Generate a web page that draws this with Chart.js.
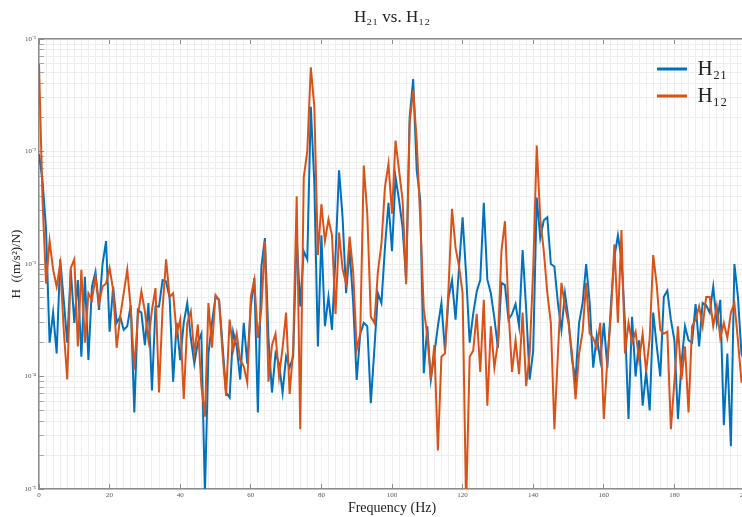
<!DOCTYPE html>
<html>
<head>
<meta charset="utf-8">
<title>H21 vs. H12</title>
<script src="https://cdn.jsdelivr.net/npm/chart.js@4.4.1/dist/chart.umd.min.js"></script>
<style>
  html, body { margin: 0; padding: 0; background: #fff; overflow: hidden; }
</style>
</head>
<body>
<canvas id="frfChart" width="760" height="517"></canvas>
<script>
// frequency axis (Hz)
const freqHz = [
    0, 1, 2, 3, 4, 5, 6, 7, 8, 9, 10, 11, 12, 13, 14, 15, 16, 17, 18, 19,
    20, 21, 22, 23, 24, 25, 26, 27, 28, 29, 30, 31, 32, 33, 34, 35, 36, 37, 38, 39,
    40, 41, 42, 43, 44, 45, 46, 47, 48, 49, 50, 51, 52, 53, 54, 55, 56, 57, 58, 59,
    60, 61, 62, 63, 64, 65, 66, 67, 68, 69, 70, 71, 72, 73, 74, 75, 76, 77, 78, 79,
    80, 81, 82, 83, 84, 85, 86, 87, 88, 89, 90, 91, 92, 93, 94, 95, 96, 97, 98, 99,
    100, 101, 102, 103, 104, 105, 106, 107, 108, 109, 110, 111, 112, 113, 114, 115, 116, 117, 118, 119,
    120, 121, 122, 123, 124, 125, 126, 127, 128, 129, 130, 131, 132, 133, 134, 135, 136, 137, 138, 139,
    140, 141, 142, 143, 144, 145, 146, 147, 148, 149, 150, 151, 152, 153, 154, 155, 156, 157, 158, 159,
    160, 161, 162, 163, 164, 165, 166, 167, 168, 169, 170, 171, 172, 173, 174, 175, 176, 177, 178, 179,
    180, 181, 182, 183, 184, 185, 186, 187, 188, 189, 190, 191, 192, 193, 194, 195, 196, 197, 198, 199,
    200
];

// H21 magnitude, (m/s^2)/N
const h21 = [
    9.5e-3, 5.5e-3, 2.0e-3, 2.0e-4, 3.7e-4, 1.6e-4, 1.1e-3, 4.8e-4, 2.0e-4, 8.9e-4,
    3.0e-4, 7.2e-4, 1.5e-4, 7.7e-4, 1.4e-4, 6.3e-4, 8.5e-4, 3.9e-4, 1.0e-3, 1.6e-3,
    2.5e-4, 6.3e-4, 3.0e-4, 3.4e-4, 2.6e-4, 2.8e-4, 4.3e-4, 4.8e-5, 3.9e-4, 3.7e-4,
    1.9e-4, 4.5e-4, 7.5e-5, 4.2e-4, 4.2e-4, 7.2e-4, 7.0e-4, 5.0e-4, 9.0e-5, 3.0e-4,
    1.4e-4, 3.0e-4, 4.5e-4, 2.2e-4, 1.3e-4, 2.0e-4, 2.4e-4, 9.0e-6, 1.6e-4, 3.0e-4,
    5.1e-4, 4.8e-4, 1.9e-4, 7.2e-5, 6.5e-5, 2.5e-4, 1.85e-4, 9.4e-5, 3.0e-4, 1.3e-4,
    4.2e-4, 7.5e-4, 4.8e-5, 9.5e-4, 1.7e-3, 2.2e-4, 7.2e-5, 1.6e-4, 1.3e-4, 7.2e-5,
    1.5e-4, 1.2e-4, 1.5e-4, 1.75e-3, 4.2e-4, 1.3e-3, 1.1e-3, 2.5e-2, 5.2e-3, 1.85e-4,
    1.8e-3, 2.8e-4, 5.1e-4, 2.6e-4, 1.2e-3, 6.8e-3, 2.6e-3, 5.5e-4, 1.33e-3, 4.5e-4,
    9.3e-5, 2.4e-4, 3.0e-4, 2.8e-4, 5.8e-5, 1.74e-4, 5.5e-4, 4.5e-4, 1.4e-3, 3.5e-3,
    1.3e-3, 5.9e-3, 3.7e-3, 2.1e-3, 7.2e-4, 2.0e-2, 4.4e-2, 6.8e-3, 3.7e-3, 1.07e-4,
    2.8e-4, 9.4e-5, 1.6e-4, 2.8e-4, 4.5e-4, 1.7e-4, 5.0e-4, 7.2e-4, 3.2e-4, 9.5e-4,
    2.6e-3, 8.0e-4, 2.0e-4, 3.6e-4, 5.7e-4, 7.2e-4, 3.5e-3, 7.3e-4, 5.5e-4, 3.3e-4,
    1.8e-4, 6.8e-4, 6.5e-4, 3.2e-4, 3.6e-4, 4.4e-4, 2.8e-4, 1.33e-3, 4.0e-4, 9.4e-5,
    1.7e-4, 3.9e-3, 1.7e-3, 2.45e-3, 2.6e-3, 1.0e-3, 9.5e-4, 4.5e-4, 2.6e-4, 5.5e-4,
    3.2e-4, 1.4e-4, 9.4e-5, 3.0e-4, 4.5e-4, 1.0e-3, 4.5e-4, 1.2e-4, 2.3e-4, 1.4e-4,
    3.0e-4, 1.2e-4, 4.2e-4, 1.16e-3, 1.8e-3, 1.1e-3, 3.0e-4, 4.2e-5, 3.4e-4, 1.0e-4,
    2.1e-4, 5.5e-5, 1.1e-4, 5.0e-5, 3.7e-4, 1.85e-4, 1.0e-4, 5.1e-4, 5.8e-4, 3.2e-4,
    2.1e-4, 4.2e-5, 1.3e-4, 2.8e-4, 2.1e-4, 2.0e-4, 4.4e-4, 1.85e-4, 4.5e-4, 4.3e-4,
    3.7e-4, 6.3e-4, 3.0e-4, 4.8e-4, 3.7e-5, 1.6e-4, 2.4e-5, 1.0e-3, 5.1e-4, 1.6e-4,
    1.3e-4
];

// H12 magnitude, (m/s^2)/N
const h12 = [
    6.0e-2, 3.7e-3, 6.7e-4, 1.6e-3, 8.9e-4, 6.3e-4, 1.0e-3, 2.6e-4, 9.4e-5, 9.2e-4,
    1.1e-3, 1.85e-4, 8.9e-4, 2.0e-4, 5.5e-4, 4.8e-4, 7.7e-4, 4.5e-4, 6.3e-4, 6.7e-4,
    9.2e-4, 5.9e-4, 1.8e-4, 3.4e-4, 5.5e-4, 8.9e-4, 4.0e-4, 1.15e-4, 3.4e-4, 5.7e-4,
    3.8e-4, 2.1e-4, 3.9e-4, 6.1e-4, 7.2e-5, 4.0e-4, 1.1e-3, 5.1e-4, 5.5e-4, 2.4e-4,
    3.2e-4, 6.3e-5, 3.0e-4, 3.8e-4, 1.6e-4, 2.9e-4, 8.2e-5, 4.4e-5, 4.5e-4, 1.8e-4,
    5.3e-4, 4.8e-4, 1.6e-4, 6.7e-5, 3.2e-4, 1.7e-4, 2.4e-4, 1.4e-4, 1.23e-4, 8.8e-5,
    5.1e-4, 7.2e-4, 2.2e-4, 4.0e-4, 1.6e-3, 9.0e-5, 1.9e-4, 2.4e-4, 1.0e-4, 1.8e-4,
    3.7e-4, 7.0e-5, 1.74e-4, 4.0e-3, 3.4e-5, 5.9e-3, 1.0e-2, 5.6e-2, 2.5e-2, 1.2e-3,
    3.4e-3, 1.6e-3, 2.5e-3, 1.8e-3, 3.6e-4, 1.9e-3, 9.0e-4, 6.7e-4, 1.75e-3, 8.5e-4,
    1.74e-4, 2.4e-4, 7.5e-3, 2.8e-3, 3.4e-4, 3.0e-4, 8.5e-4, 1.5e-3, 4.8e-3, 7.8e-3,
    2.8e-3, 1.25e-2, 6.8e-3, 3.7e-3, 6.6e-4, 1.8e-2, 3.5e-2, 1.25e-2, 2.5e-3, 4.0e-4,
    2.3e-4, 9.4e-5, 1.9e-4, 2.2e-5, 1.5e-4, 1.6e-4, 6.0e-4, 3.1e-3, 1.4e-3, 9.5e-4,
    5.5e-4, 7.0e-6, 1.5e-4, 1.7e-4, 3.6e-4, 1.1e-4, 4.8e-4, 5.5e-5, 2.8e-4, 1.2e-4,
    2.0e-4, 1.3e-3, 2.4e-3, 3.9e-4, 1.1e-4, 2.1e-4, 1.05e-4, 3.7e-4, 8.2e-5, 1.6e-4,
    9.0e-4, 1.13e-2, 2.5e-3, 1.3e-3, 5.5e-4, 3.0e-4, 3.4e-5, 1.6e-4, 6.8e-4, 4.2e-4,
    3.0e-4, 1.6e-4, 6.3e-5, 1.6e-4, 2.5e-4, 6.8e-4, 2.4e-4, 2.2e-4, 1.8e-4, 3.0e-4,
    4.2e-5, 1.4e-4, 3.5e-4, 1.5e-3, 3.0e-4, 2.0e-3, 1.6e-4, 3.0e-4, 2.0e-4, 2.5e-4,
    1.4e-4, 2.4e-4, 1.1e-4, 2.2e-4, 1.2e-3, 6.5e-4, 2.6e-4, 2.4e-4, 2.5e-4, 3.4e-5,
    9.0e-5, 2.8e-4, 9.4e-5, 1.85e-4, 4.8e-5, 2.8e-4, 3.2e-4, 4.2e-4, 2.8e-4, 5.1e-4,
    5.1e-4, 2.8e-4, 4.2e-4, 2.2e-4, 3.0e-4, 2.2e-4, 3.7e-4, 4.5e-4, 2.1e-4, 9.0e-5,
    9.0e-5
];

// labelled x ticks
const xTickLabels = [0, 20, 40, 60, 80, 100, 120, 140, 160, 180, 200];

// y gridlines (log decades and their multiples) and the labelled decades
const yGridValues = [
    1e-5, 2e-5, 3e-5, 4e-5, 5e-5, 6e-5, 7e-5, 8e-5, 9e-5,
    1e-4, 2e-4, 3e-4, 4e-4, 5e-4, 6e-4, 7e-4, 8e-4, 9e-4,
    1e-3, 2e-3, 3e-3, 4e-3, 5e-3, 6e-3, 7e-3, 8e-3, 9e-3,
    1e-2, 2e-2, 3e-2, 4e-2, 5e-2, 6e-2, 7e-2, 8e-2, 9e-2,
    1e-1
];
const yDecades = [1e-5, 1e-4, 1e-3, 1e-2, 1e-1];
const yTickLabels = ['10⁻⁵', '10⁻⁴', '10⁻³', '10⁻²', '10⁻¹'];

const serif = "'Liberation Serif', 'Times New Roman', serif";
const axisColor = '#8c8c8c';
const gridColor = '#eeeeee';
const tickMarkColor = '#8c8c8c';

// put the legend in the top right corner of the plot area
const legendInPlot = {
    id: 'legendInPlot',
    afterLayout(chart) {
        const lg = chart.legend;
        const area = chart.chartArea;
        lg.left = area.right - 94;
        lg.right = lg.left + lg.width;
        lg.top = area.top + 13.5;
        lg.bottom = lg.top + lg.height;
    }
};

// inward tick marks (negative length), only on the labelled x values
const xTickMark = (ctx) => xTickLabels.includes(ctx.tick && ctx.tick.value) ? tickMarkColor : 'rgba(0,0,0,0)';

const config = {
    type: 'line',
    data: {
        labels: freqHz,
        datasets: [{
            label: 'H₂₁',
            data: h21,
            xAxisID: 'x',
            borderColor: '#0072BD',
            backgroundColor: '#0072BD',
            borderWidth: 2,
            pointRadius: 0,
            pointStyle: 'line',
            tension: 0,
            order: 2,
        }, {
            label: 'H₁₂',
            data: h12,
            xAxisID: 'x',
            borderColor: '#D95319',
            backgroundColor: '#D95319',
            borderWidth: 2,
            pointRadius: 0,
            pointStyle: 'line',
            tension: 0,
            order: 1,
        }]
    },
    options: {
        responsive: false,
        animation: false,
        events: [],
        layout: {
            padding: { left: 0, right: 15, top: 0, bottom: 0 }
        },
        plugins: {
            title: {
                display: true,
                text: 'H₂₁ vs. H₁₂',
                fullSize: false,
                color: '#222',
                font: { family: serif, size: 17, weight: 'normal' },
                padding: { top: 7, bottom: 11.6 },
            },
            legend: {
                position: 'chartArea',
                align: 'start',
                labels: {
                    color: '#222',
                    font: { family: serif, size: 21 },
                    usePointStyle: true,
                    pointStyleWidth: 30,
                    padding: 6,
                    sort: (a, b) => a.datasetIndex - b.datasetIndex,
                    generateLabels(chart) {
                        const items = Chart.defaults.plugins.legend.labels.generateLabels(chart);
                        items.forEach(it => { it.lineWidth = 3; });
                        return items;
                    },
                },
            },
            tooltip: { enabled: false },
        },
        scales: {
            x: {
                type: 'linear',
                position: 'bottom',
                min: 0,
                max: 200,
                afterFit: (scale) => { scale.height = 28; },
                ticks: {
                    stepSize: 2,
                    autoSkip: false,
                    maxRotation: 0,
                    padding: 7,
                    color: '#555',
                    font: { family: serif, size: 7 },
                    callback: (v) => xTickLabels.includes(v) ? String(v) : '',
                },
                grid: {
                    color: gridColor,
                    drawTicks: true,
                    tickLength: -5,
                    tickColor: xTickMark,
                    tickWidth: 1,
                },
                border: { color: axisColor, width: 1.5 },
                title: {
                    display: true,
                    text: 'Frequency (Hz)',
                    color: '#222',
                    font: { family: serif, size: 14 },
                    padding: { top: 0, bottom: 0 },
                },
            },
            x2: {
                type: 'linear',
                axis: 'x',
                position: 'top',
                min: 0,
                max: 200,
                afterFit: (scale) => { scale.height = 0; },
                ticks: { display: false, stepSize: 20 },
                grid: {
                    display: true,
                    drawOnChartArea: false,
                    drawTicks: true,
                    tickLength: -5,
                    tickColor: tickMarkColor,
                    tickWidth: 1,
                },
                border: { color: axisColor, width: 1.5 },
            },
            y: {
                type: 'logarithmic',
                min: 1e-5,
                max: 1e-1,
                afterFit: (scale) => { scale.width = 39; },
                afterBuildTicks: (scale) => {
                    scale.ticks = yGridValues.map(v => ({ value: v }));
                },
                ticks: {
                    autoSkip: false,
                    padding: 8,
                    color: '#555',
                    font: { family: serif, size: 7 },
                    callback: (v) => {
                        const i = yDecades.indexOf(v);
                        return i >= 0 ? yTickLabels[i] : '';
                    },
                },
                grid: {
                    color: gridColor,
                    drawTicks: true,
                    tickLength: -5,
                    tickColor: (ctx) => yDecades.includes(ctx.tick && ctx.tick.value) ? tickMarkColor : '#a8a8a8',
                    tickWidth: 1,
                },
                border: { color: axisColor, width: 1.5 },
                title: {
                    display: true,
                    text: 'H  ((m/s²)/N)',
                    color: '#222',
                    font: { family: serif, size: 13 },
                    padding: { top: 9, bottom: 0 },
                },
            },
        },
    },
    plugins: [legendInPlot],
};

const frfChart = new Chart(
    document.getElementById('frfChart'),
    config
);
</script>
</body>
</html>
